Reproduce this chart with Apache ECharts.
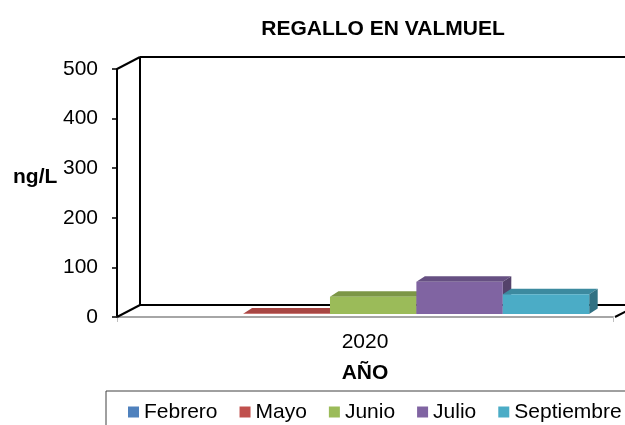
<!DOCTYPE html>
<html>
<head>
<meta charset="utf-8">
<script src="https://cdn.jsdelivr.net/npm/echarts@6/dist/echarts.min.js"></script>
<style>
  html, body { margin: 0; padding: 0; background: #fff; }
  #chart { width: 625px; height: 425px; }
</style>
</head>
<body>
<div id="chart"></div>
<script>
var categories = ['2020'];
var months = ['Febrero', 'Mayo', 'Junio', 'Julio', 'Septiembre'];
var values = [null, 1, 35, 65, 40];
var yTicks = [0, 100, 200, 300, 400, 500];

// front / top / side colours of each month
var faceColors = [
  ['#4F81BD', '#3F6797', '#345583'],
  ['#C0504D', '#A84643', '#7F3533'],
  ['#9BBB59', '#7C9646', '#667B3A'],
  ['#8064A2', '#665082', '#54426B'],
  ['#4BACC6', '#3C8A9F', '#317183']
];

var FONT = 'Liberation Sans, Arial, sans-serif';
var gl = 117, gt = 69, gr = 613, gb = 317;   // front plane of the plot
var wdx = 23, wdy = -12;                    // depth of the walls
var bdx = 8.5, bdy = -5.5;                  // depth of the bars

var chart = echarts.init(document.getElementById('chart'), null, { renderer: 'canvas' });

function renderBar(params, api) {
  var i = params.seriesIndex;
  var v = api.value(1);
  if (v == null || isNaN(v)) return;
  var base = api.coord([api.value(0), 0]);
  var top = api.coord([api.value(0), v]);
  var catW = api.size([1, 0])[0];
  var barW = catW * 0.871 / months.length;
  var l = base[0] - catW / 2 + catW * 0.081 + i * barW;
  var r = l + barW;
  var y0 = base[1] - 3, y1 = top[1] - 3;
  var c = faceColors[i];
  return {
    type: 'group',
    children: [
      { type: 'polygon', shape: { points: [[l, y1], [l + bdx, y1 + bdy], [r + bdx, y1 + bdy], [r, y1]] }, style: { fill: c[1] } },
      { type: 'polygon', shape: { points: [[r, y1], [r + bdx, y1 + bdy], [r + bdx, y0 + bdy], [r, y0]] }, style: { fill: c[2] } },
      { type: 'rect', shape: { x: l, y: y1, width: barW, height: y0 - y1 }, style: { fill: c[0] } }
    ]
  };
}

var series = months.map(function (m, i) {
  return {
    name: m,
    type: 'custom',
    renderItem: renderBar,
    itemStyle: { color: faceColors[i][0] },
    data: [[0, values[i]]],
    z: 3
  };
});

function line(x1, y1, x2, y2, color, w) {
  return { type: 'line', shape: { x1: x1, y1: y1, x2: x2, y2: y2 }, style: { stroke: color, lineWidth: w }, z: 1 };
}

var option = {
  animation: false,
  title: {
    text: 'REGALLO EN VALMUEL',
    left: 378,
    top: 14,
    textAlign: 'center',
    textStyle: { fontFamily: FONT, fontSize: 21, fontWeight: 'bold', color: '#000' }
  },
  grid: { left: gl, top: gt, right: 625 - gr, bottom: 425 - gb },
  xAxis: {
    type: 'category',
    data: categories,
    name: 'AÑO',
    nameLocation: 'middle',
    nameGap: 46,
    nameTextStyle: { fontFamily: FONT, fontSize: 21, fontWeight: 'bold', color: '#000' },
    axisLine: { lineStyle: { color: '#A6A6A6', width: 2 } },
    axisTick: { show: true, length: 5, lineStyle: { color: '#BFBFBF' } },
    axisLabel: { margin: 15, fontFamily: FONT, fontSize: 21, color: '#000' }
  },
  yAxis: {
    type: 'value',
    min: yTicks[0],
    max: yTicks[yTicks.length - 1],
    interval: yTicks[1] - yTicks[0],
    axisLine: { show: true, lineStyle: { color: '#000', width: 2 } },
    axisTick: { show: true, length: 5, lineStyle: { color: '#000', width: 1.5 } },
    axisLabel: { margin: 19, fontFamily: FONT, fontSize: 21, color: '#000' },
    splitLine: { show: false }
  },
  legend: {
    data: months,
    left: 128,
    top: 401,
    padding: 0,
    itemGap: 22,
    itemWidth: 11,
    itemHeight: 11,
    icon: 'rect',
    textStyle: { fontFamily: FONT, fontSize: 21, color: '#000', lineHeight: 22 }
  },
  graphic: [
    // back wall
    line(gl + wdx, gt + wdy, gl + wdx, gb + wdy, '#000', 2),
    line(gl + wdx, gt + wdy, 640, gt + wdy, '#000', 2),
    line(gl + wdx, gb + wdy, 640, gb + wdy, '#000', 2),
    // side wall edges
    line(gl, gt, gl + wdx, gt + wdy, '#000', 2),
    line(gl, gb, gl + wdx, gb + wdy, '#000', 2),
    // floor right edge
    line(gr + 2, gb, gr + 2 + wdx, gb + wdy, '#000', 2),
    // y axis unit
    {
      type: 'text', left: 13, top: 167, z: 5,
      style: { text: 'ng/L', fontFamily: FONT, fontSize: 21, fontWeight: 'bold', fill: '#000' }
    },
    // legend frame
    {
      type: 'rect', shape: { x: 106, y: 391, width: 600, height: 80 },
      style: { fill: 'none', stroke: '#404040', lineWidth: 1 }, z: 0
    }
  ],
  series: series
};

chart.setOption(option);
</script>
</body>
</html>
